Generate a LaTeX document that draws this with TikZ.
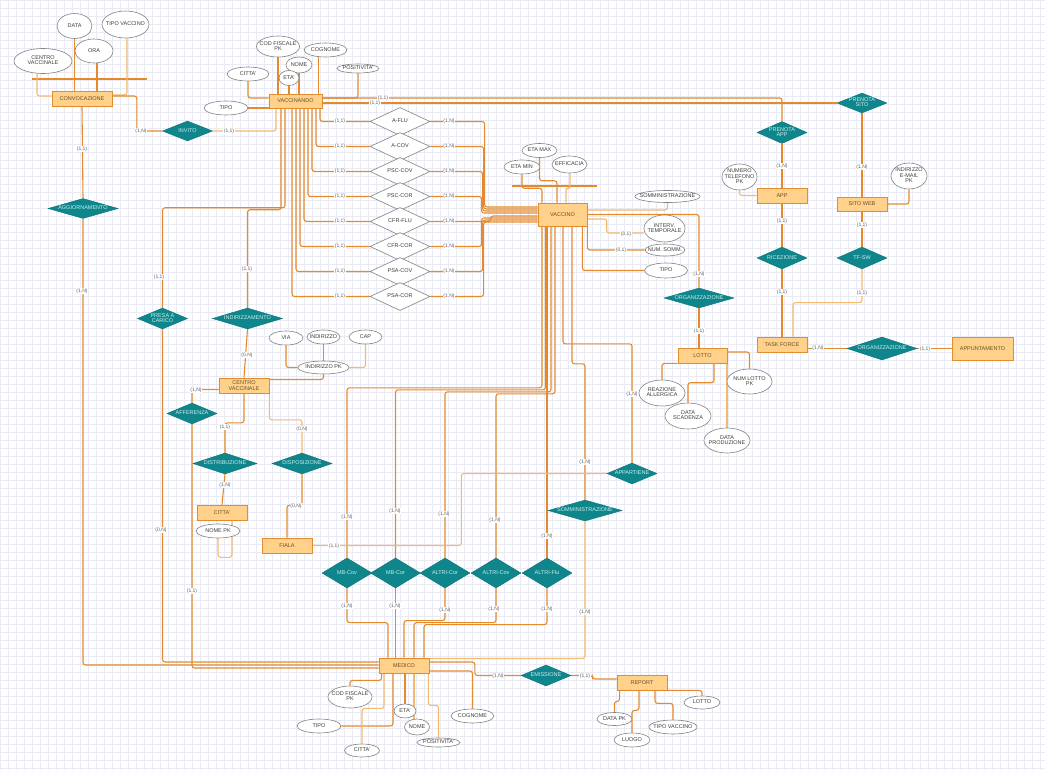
\documentclass[tikz,border=0pt]{standalone}
\usepackage{fontspec}
\setmainfont{Liberation Sans}
\usetikzlibrary{shapes.geometric,calc,backgrounds}
\definecolor{lineor}{RGB}{228,138,45}
\definecolor{lineorl}{RGB}{243,186,112}
\definecolor{entfill}{RGB}{255,209,138}
\definecolor{entdraw}{RGB}{226,140,48}
\definecolor{enttext}{RGB}{105,78,42}
\definecolor{relfill}{RGB}{14,134,139}
\definecolor{reltext}{RGB}{205,238,238}
\definecolor{attdraw}{RGB}{130,130,130}
\definecolor{atttext}{RGB}{60,60,60}
\definecolor{cardtext}{RGB}{95,95,95}
\definecolor{gridc}{RGB}{234,234,245}
\renewcommand\arraystretch{0.8}
\newcommand\zw[1]{\makebox[0pt]{\begin{tabular}{@{}c@{}}#1\end{tabular}}}

\begin{document}
\begin{tikzpicture}[x=1pt, y=-1pt,
    ent/.style={draw=entdraw, fill=entfill, line width=0.8pt, inner sep=0pt,
                minimum width=50, minimum height=15, align=center,
                text=enttext, font=\fontsize{5.5}{6}\selectfont},
    rel/.style={diamond, draw=relfill!85!black, fill=relfill, inner sep=0pt,
                minimum width=50, minimum height=21, text=reltext,
                font=\fontsize{5.5}{6}\selectfont},
    wrel/.style={diamond, draw=attdraw, fill=white, line width=0.6pt, inner sep=0pt,
                 minimum width=60, minimum height=28, text=atttext,
                 font=\fontsize{5.5}{6}\selectfont},
    att/.style={ellipse, draw=attdraw, fill=white, line width=0.6pt, inner sep=0pt,
                text=atttext, font=\fontsize{5.5}{6}\selectfont},
    crd/.style={fill=white, inner sep=0.6pt, text=cardtext,
                font=\fontsize{5}{5.5}\selectfont},
    link/.style={draw=lineor, line width=1.1pt, rounded corners=2.5pt},
    linkl/.style={link, draw=lineorl}
  ]
  \useasboundingbox (0,0) rectangle (1045,770);
  \begin{scope}[on background layer]
    \fill[white] (0,0) rectangle (1045,770);
    \draw[gridc, line width=0.35pt, step=8pt] (0,0) grid (1045,770);
  \end{scope}

  % entities
  \node[ent, minimum width=60] (conv) at (82,98.5) {CONVOCAZIONE};
  \node[ent, minimum width=53, minimum height=14] (vaccinando) at (295.5,101) {VACCINANDO};
  \node[ent, minimum width=49, minimum height=23] (vaccino) at (562.5,214.5) {VACCINO};
  \node[ent] (app) at (782,195.5) {APP};
  \node[ent, minimum height=14] (sitoweb) at (862,204) {SITO WEB};
  \node[ent] (taskforce) at (782,344.5) {TASK FORCE};
  \node[ent, minimum width=61, minimum height=23] (appunt) at (982.5,348.5) {APPUNTAMENTO};
  \node[ent, minimum width=49] (lotto) at (702.5,355.5) {LOTTO};
  \node[ent] (centrovac) at (244,385.5) {CENTRO\\VACCINALE};
  \node[ent] (citta) at (222,512.5) {CITTA'};
  \node[ent] (fiala) at (287,545.5) {FIALA};
  \node[ent] (medico) at (404,665.5) {MEDICO};
  \node[ent] (report) at (642,682.5) {REPORT};

  % relationships
  \node[rel, minimum height=20] (invito) at (187.5,131) {\zw{INVITO}};
  \node[rel, minimum width=70, minimum height=20] (aggiorn) at (83,208.5) {\zw{AGGIORNAMENTO}};
  \node[rel, minimum height=22] (prenapp) at (782,132.5) {\zw{PRENOTA\\APP}};
  \node[rel, minimum height=20] (prensito) at (862,103) {\zw{PRENOTA\\SITO}};
  \node[rel, minimum height=22] (ricez) at (782,258) {\zw{RICEZIONE}};
  \node[rel, minimum height=22] (tfsw) at (862,258) {\zw{TF-SW}};
  \node[rel, minimum width=70, minimum height=20] (organizV) at (699,298) {\zw{ORGANIZZAZIONE}};
  \node[rel, minimum width=70, minimum height=23] (organizT) at (882,348.5) {\zw{ORGANIZZAZIONE}};
  \node[rel] (presa) at (162.5,318.5) {\zw{PRESA A\\CARICO}};
  \node[rel, minimum width=70] (indirizz) at (247.5,318.5) {\zw{INDIRIZZAMENTO}};
  \node[rel] (afferenza) at (192,413.5) {\zw{AFFERENZA}};
  \node[rel, minimum width=64] (distrib) at (225,463.5) {\zw{DISTRIBUZIONE}};
  \node[rel, minimum width=60] (dispos) at (302,463.5) {\zw{DISPOSIZIONE}};
  \node[rel] (appart) at (632,473.5) {\zw{APPARTIENE}};
  \node[rel, minimum width=74] (sommin) at (585,510.5) {\zw{SOMMINISTRAZIONE}};
  \node[rel, minimum height=30] (mbcov) at (347,573) {\zw{MB-Cov}};
  \node[rel, minimum height=30] (mbcor) at (395.5,573) {\zw{MB-Cor}};
  \node[rel, minimum height=30] (altricor) at (445,573) {\zw{ALTRI-Cor}};
  \node[rel, minimum height=30] (altricov) at (496,573) {\zw{ALTRI-Cov}};
  \node[rel, minimum height=30] (altriflu) at (547,573) {\zw{ALTRI-Flu}};
  \node[rel] (emiss) at (546,675.5) {\zw{EMISSIONE}};

  \foreach \nm/\lab [count=\i from 0] in {aflu/A-FLU, acov/A-COV, psccov/PSC-COV,
      psccor/PSC-COR, cfrflu/CFR-FLU, cfrcor/CFR-COR, psacov/PSA-COV, psacor/PSA-COR}
    \node[wrel] (d\nm) at (400,121.5+25*\i) {\zw{\lab}};

  % attributes
  \node[att, minimum width=35, minimum height=25] (a_data) at (74.5,26) {\zw{DATA}};
  \node[att, minimum width=47, minimum height=27] (a_tipovac) at (125.5,24.5) {\zw{TIPO VACCINO}};
  \node[att, minimum width=38, minimum height=24] (a_ora) at (94,51) {\zw{ORA}};
  \node[att, minimum width=58, minimum height=25] (a_cvac) at (43,61) {\zw{CENTRO\\VACCINALE}};
  \node[att, minimum width=43, minimum height=21] (v_codf) at (278,46.5) {\zw{COD FISCALE\\PK}};
  \node[att, minimum width=43, minimum height=14] (v_cogn) at (325.5,50) {\zw{COGNOME}};
  \node[att, minimum width=26, minimum height=16] (v_nome) at (299,65) {\zw{NOME}};
  \node[att, minimum width=20, minimum height=15] (v_eta) at (289,78) {\zw{ETA'}};
  \node[att, minimum width=42, minimum height=14] (v_citta) at (248,74) {\zw{CITTA'}};
  \node[att, minimum width=44, minimum height=14] (v_tipo) at (226,108) {\zw{TIPO}};
  \node[att, minimum width=42, minimum height=9] (v_pos) at (358,68.5) {\zw{POSITIVITA'}};
  \node[att, minimum width=35, minimum height=14] (c_etamax) at (539.5,150.5) {\zw{ETA MAX}};
  \node[att, minimum width=36, minimum height=14] (c_etamin) at (522,167) {\zw{ETA MIN}};
  \node[att, minimum width=35, minimum height=17] (c_effic) at (569.5,164.5) {\zw{EFFICACIA}};
  \node[att, minimum width=65, minimum height=12] (c_somm) at (667.5,196.5) {\zw{SOMMINISTRAZIONE}};
  \node[att, minimum width=41, minimum height=27] (c_interv) at (664.5,228.5) {\zw{INTERV.\\TEMPORALE}};
  \node[att, minimum width=40, minimum height=12] (c_numsomm) at (665,250) {\zw{NUM. SOMM.}};
  \node[att, minimum width=43, minimum height=15] (c_tipo) at (666,270.5) {\zw{TIPO}};
  \node[att, minimum width=35, minimum height=26] (p_tel) at (739.5,177) {\zw{NUMERO\\TELEFONO\\PK}};
  \node[att, minimum width=36, minimum height=26] (s_mail) at (909,176) {\zw{INDIRIZZO\\E-MAIL\\PK}};
  \node[att, minimum width=34, minimum height=14] (i_via) at (286,338) {\zw{VIA}};
  \node[att, minimum width=33, minimum height=14] (i_ind) at (323.5,337) {\zw{INDIRIZZO}};
  \node[att, minimum width=33, minimum height=14] (i_cap) at (365.5,337) {\zw{CAP}};
  \node[att, minimum width=51, minimum height=13] (i_pk) at (323.5,367.5) {\zw{INDIRIZZO PK}};
  \node[att, minimum width=44, minimum height=14] (t_nomepk) at (218,531) {\zw{NOME PK}};
  \node[att, minimum width=46, minimum height=26] (l_reaz) at (662,393) {\zw{REAZIONE\\ALLERGICA}};
  \node[att, minimum width=46, minimum height=26] (l_scad) at (688,416) {\zw{DATA\\SCADENZA}};
  \node[att, minimum width=46, minimum height=25] (l_prod) at (727,440.5) {\zw{DATA\\PRODUZIONE}};
  \node[att, minimum width=45, minimum height=25] (l_num) at (749.5,381.5) {\zw{NUM LOTTO\\PK}};
  \node[att, minimum width=44, minimum height=22] (m_codf) at (350,697) {\zw{COD FISCALE\\PK}};
  \node[att, minimum width=44, minimum height=14] (m_tipo) at (319,726) {\zw{TIPO}};
  \node[att, minimum width=35, minimum height=13] (m_citta) at (362,750.5) {\zw{CITTA'}};
  \node[att, minimum width=22, minimum height=14] (m_eta) at (405,711) {\zw{ETA'}};
  \node[att, minimum width=25, minimum height=16] (m_nome) at (417,727) {\zw{NOME}};
  \node[att, minimum width=43, minimum height=9] (m_pos) at (438.5,742.5) {\zw{POSITIVITA'}};
  \node[att, minimum width=43, minimum height=14] (m_cogn) at (472.5,716) {\zw{COGNOME}};
  \node[att, minimum width=35, minimum height=13] (r_data) at (614.5,719) {\zw{DATA PK}};
  \node[att, minimum width=36, minimum height=14] (r_luogo) at (632,740) {\zw{LUOGO}};
  \node[att, minimum width=48, minimum height=14] (r_tipo) at (673,727) {\zw{TIPO VACCINO}};
  \node[att, minimum width=36, minimum height=13] (r_lotto) at (702,702.5) {\zw{LOTTO}};

  \begin{scope}[on background layer]
    % convocazione
    \draw[link] (32,79) -- (147,79);
    \draw[linkl] ([xshift=-6pt]a_cvac.south) |- ($(conv.west)+(0,-2.5)$);
    \draw[link] (a_data.south) -- (a_data.south |- conv.north);
    \draw[link] ([xshift=3pt]a_ora.south) -- ([xshift=3pt]a_ora.south |- conv.north);
    \draw[linkl] ([xshift=1.5pt]a_tipovac.south) |- ($(conv.east)+(0,-3.5)$);
    \draw[link] ($(conv.east)+(0,-2.5)$) -| ($(invito.west)+(-25.5,0)$) -- (invito.west);
    \draw[linkl] (invito.east) -| ($(vaccinando.south)+(-19.5,0)$);
    \draw[link] (conv.south) -- (aggiorn.north);
    \draw[link] (aggiorn.south) |- ($(medico.west)+(0,-0.5)$);
    % vaccinando
    \draw[link] (v_codf.south) -- (v_codf.south |- vaccinando.north);
    \draw[link] (v_eta.south) -- (v_eta.south |- vaccinando.north);
    \draw[link] (v_nome.south) -- (v_nome.south |- vaccinando.north);
    \draw[link] ([xshift=-7pt]v_cogn.south) -- ([xshift=-7pt]v_cogn.south |- vaccinando.north);
    \draw[link] (v_citta.south) |- ($(vaccinando.west)+(0,-3)$);
    \draw[link] (v_tipo.east) -- (v_tipo.east -| vaccinando.west);
    \draw[link] (v_pos.south) |- ($(vaccinando.east)+(0,-3)$);
    \draw[link] ($(vaccinando.east)+(0,-3)$) -| (prenapp.north);
    \draw[link] ($(vaccinando.east)+(0,2)$) -- (prensito.west);
    \draw[link] ($(vaccinando.south)+(-10.5,0)$) |- ($(presa.north)+(0,-100)$) -- (presa.north);
    \draw[link] ($(vaccinando.south)+(-14.5,0)$) |- ($(indirizz.north)+(0,-98)$) -- (indirizz.north);
    \draw[link] (presa.south) |- ($(medico.west)+(0,-3.5)$);
    \foreach \nm/\dx/\bx/\dy in {aflu/24.5/-53/-7.5, acov/20.5/-54/-5.5, psccov/16.5/-55/-3.5,
        psccor/12.5/-56/-1.5, cfrflu/8.5/-47/1.5, cfrcor/4.5/-56/3.5, psacov/0.5/-55/5.5,
        psacor/-3.5/-54/7.5}
    {
      \draw[link] ($(vaccinando.south)+(\dx,0)$) |- (d\nm.west);
      \draw[link] (d\nm.east) -| ($(vaccino.west)+(\bx,\dy)$) -- ($(vaccino.west)+(0,\dy)$);
    }
    % centro vaccinale
    \draw[link] (indirizz.south) -- (centrovac.north);
    \draw[link] ($(centrovac.west)+(0,4)$) -| (afferenza.north);
    \draw[link] (afferenza.south) |- ($(medico.west)+(0,2.5)$);
    \draw[link] (centrovac.south) |- ($(distrib.north)+(0,-30)$) -- (distrib.north);
    \draw[linkl] (centrovac.south east) |- ($(dispos.north)+(0,-33)$) -- (dispos.north);
    \draw[link] (distrib.south) -- (citta.north);
    \draw[link] (dispos.south) -- ($(dispos.south)+(0,31)$) -| (fiala.north);
    \draw[linkl] ([xshift=10pt]citta.south) |- ($(t_nomepk.south)+(0,19)$) -- (t_nomepk.south);
    \draw[link] (i_pk.south) |- ($(centrovac.east)+(0,-6)$);
    \draw[link] (i_via.south) |- (i_pk.west);
    \draw[link] (i_ind.south) -- (i_pk.north);
    \draw[linkl] (i_cap.south) |- (i_pk.east);
    % vaccino
    \draw[link] (512,186) -- (597,186);
    \draw[link] (c_etamin.south) -- ++(0,14) -| ($(vaccino.north)+(-20.5,0)$);
    \draw[link] (c_etamax.south) -- ++(0,23) -| ($(vaccino.north)+(-5.5,0)$);
    \draw[linkl] ($(c_effic.south)+(0.5,0)$) -- ++(0,15) -| ($(vaccino.north)+(3.5,0)$);
    \draw[linkl] ($(vaccino.east)+(0,-4.5)$) -| (c_somm.south);
    \draw[linkl] ($(vaccino.east)+(0,4.5)$) -| ($(c_interv.west)+(-37,4.5)$) -- ($(c_interv.west)+(0,4.5)$);
    \draw[link] (vaccino.south east) |- (c_numsomm.west);
    \draw[link] ($(vaccino.south east)+(-5,0)$) |- (c_tipo.west);
    \draw[link] (vaccino.east) -| (organizV.north);
    \draw[link] (organizV.south) -- (organizV.south |- lotto.north);
    \draw[link] ($(vaccino.south)+(0.5,0)$) |- ($(appart.north)+(0,-119)$) -- (appart.north);
    \draw[link] ($(vaccino.south)+(9.5,0)$) |- ($(sommin.north)+(0,-136)$) -- (sommin.north);
    \draw[link] ($(vaccino.south)+(-20.5,0)$) |- ($(mbcov.north)+(0,-170)$) -- (mbcov.north);
    \draw[link] ($(vaccino.south)+(-17,0)$) |- ($(mbcor.north)+(0,-168)$) -- (mbcor.north);
    \draw[link] ($(vaccino.south)+(-11.5,0)$) |- ($(altricor.north)+(0,-166)$) -- (altricor.north);
    \draw[link] ($(vaccino.south)+(-7.5,0)$) |- ($(altricov.north)+(0,-164)$) -- (altricov.north);
    \draw[link] (altriflu.north |- vaccino.south) -- (altriflu.north);
    \draw[linkl] (appart.west) -| ($(fiala.east)+(149,0)$) -- (fiala.east);
    % lotto
    \draw[link] (l_reaz.north) |- (lotto.south west);
    \draw[link] (l_scad.north) -- ++(0,-20) -| ($(lotto.south)+(11.5,0)$);
    \draw[linkl] (l_prod.north) -- (l_prod.north |- lotto.south);
    \draw[link] (l_num.north) |- ($(lotto.east)+(0,-3.5)$);
    % app, sito web, task force
    \draw[link] (prenapp.south) -- (app.north);
    \draw[linkl] (p_tel.south) |- (app.west);
    \draw[link] (app.south) -- (ricez.north);
    \draw[link] (ricez.south) -- (taskforce.north);
    \draw[link] (prensito.south) -- (sitoweb.north);
    \draw[link] (s_mail.south) |- (sitoweb.east);
    \draw[link] (sitoweb.south) -- (tfsw.north);
    \draw[linkl] (tfsw.south) |- ($(taskforce.north)+(11,-34)$) -- ($(taskforce.north)+(11,0)$);
    \draw[link] (organizT.west -| taskforce.east) -- (organizT.west);
    \draw[link] (organizT.east) -- (appunt.west);
    % medico
    \draw[link] (mbcov.south) |- ($(medico.north)+(-16,-35)$) -- ($(medico.north)+(-16,0)$);
    \draw[link] (mbcor.south) -- (mbcor.south |- medico.north);
    \draw[link] (altricor.south) |- ($(medico.north)+(0,-37)$) -- (medico.north);
    \draw[link] (altricov.south) |- ($(medico.north)+(10,-35)$) -- ($(medico.north)+(10,0)$);
    \draw[link] (altriflu.south) |- ($(medico.north)+(20,-33)$) -- ($(medico.north)+(20,0)$);
    \draw[linkl] (sommin.south) |- ($(medico.east)+(0,-7)$);
    \draw[link] ($(medico.east)+(0,-3.5)$) -| ($(emiss.west)+(-46,0)$) -- (emiss.west);
    \draw[link] (emiss.east) -| ($(report.west)+(-24,-3.5)$) -- ($(report.west)+(0,-3.5)$);
    \draw[link] (m_codf.north) |- ($(medico.south west)+(3,7)$) -- ($(medico.south west)+(3,0)$);
    \draw[link] (m_tipo.east) -| ($(medico.south)+(-11,0)$);
    \draw[linkl] (m_citta.north) |- ($(medico.south)+(-20,35)$) -- ($(medico.south)+(-20,0)$);
    \draw[link] (m_eta.north) -- (m_eta.north |- medico.south);
    \draw[linkl] ($(m_nome.north)+(-3,0)$) -- ($(medico.south)+(10,0)$);
    \draw[linkl] (m_pos.north) |- ($(medico.south east)+(-1,32)$) -- ($(medico.south east)+(-1,0)$);
    \draw[link] (m_cogn.north) |- ($(medico.east)+(0,5.5)$);
    % report
    \draw[link] (r_data.north) |- ($(report.south west)+(3,11)$) -- ($(report.south west)+(3,0)$);
    \draw[link] (r_luogo.north) |- ($(report.south)+(-3,20)$) -- ($(report.south)+(-3,0)$);
    \draw[link] (r_tipo.north) |- ($(report.south)+(13,13)$) -- ($(report.south)+(13,0)$);
    \draw[link] (r_lotto.north) |- (report.south east);
  \end{scope}

  % cardinalities
  \foreach \nm [count=\i from 0] in {aflu,acov,psccov,psccor,cfrflu,cfrcor,psacov,psacor}
  {
    \node[crd] (ka\nm) at (340,121.5+25*\i) {(1,1)};
    \node[crd] (kb\nm) at (449,121.5+25*\i) {(1,N)};
  }
  \foreach \x/\y/\a/\b [count=\k] in {141/131/1/N, 229/131/1/1, 82/149/1/1, 82/291/1/N,
      159/277/1/1, 161/530/0/N, 192/591/1/1, 247/269/1/1, 247/355/0/N, 196/390/1/N,
      225/427/1/1, 302/429/0/N, 225/485/1/N, 296/506/0/N, 334/546/1/1, 383/98/1/1,
      375/103/1/1, 626/234/0/1, 621/250/0/1, 699/274/1/N, 699/331/1/1, 632/394/1/N,
      585/462/1/N, 347/517/1/N, 395/511/1/N, 444/514/1/N, 495/520/1/N, 547/536/1/N,
      585/612/1/N, 347/606/1/N, 395/606/1/N, 445/610/1/N, 494/609/1/N, 547/609/1/N,
      498/676/1/N, 585/676/1/1, 782/166/1/N, 782/221/1/1, 782/292/1/1, 862/167/1/N,
      862/225/1/1, 862/293/1/1, 818/348/1/N, 925/349/1/1}
    \node[crd] (k\k) at (\x,\y) {(\a,\b)};
\end{tikzpicture}
\end{document}
